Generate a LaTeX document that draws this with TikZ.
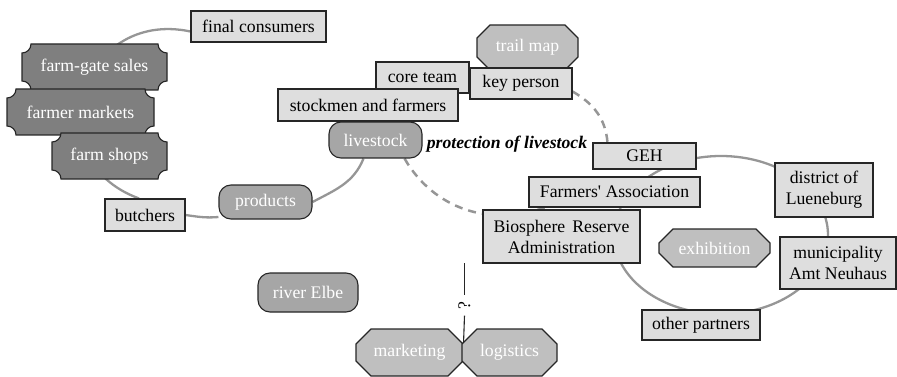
\documentclass[tikz,border=0pt]{standalone}
\usepackage{fontspec}
\setmainfont{Liberation Serif}
\pgfdeclarelayer{bg}
\pgfsetlayers{bg,main}
\definecolor{boxfill}{HTML}{DEDEDE}
\definecolor{plqfill}{HTML}{7F7F7F}
\definecolor{rndfill}{HTML}{A6A6A6}
\definecolor{octfill}{HTML}{BFBFBF}
\definecolor{edgec}{HTML}{262626}
\definecolor{ringc}{HTML}{969696}
\tikzset{
  txt/.style={font=\fontsize{17.7}{21}\selectfont, inner sep=0pt, align=center},
  box/.style={txt, draw=edgec, line width=1.1pt, fill=boxfill, text=black},
  rnd/.style={txt, draw=edgec, line width=1.1pt, fill=rndfill, text=white, rounded corners=12pt},
  shapetext/.style={txt, text=white},
  plqpath/.style={draw=black!85, line width=1.1pt, fill=plqfill},
  octpath/.style={draw=edgec, line width=1.1pt, fill=octfill},
  ring/.style={draw=ringc, line width=2.3pt},
  dashring/.style={draw=ringc, line width=2.5pt, dash pattern=on 8pt off 6pt},
  qline/.style={draw=edgec, line width=1.1pt},
}
% octagon: name, cx, cy, w, h, chamfer, text
\newcommand\octnode[7]{%
  \path[octpath] ({#2-#4/2+#6},{#3-#5/2}) -- ({#2+#4/2-#6},{#3-#5/2}) -- ({#2+#4/2},{#3-#5/2+#6}) -- ({#2+#4/2},{#3+#5/2-#6}) -- ({#2+#4/2-#6},{#3+#5/2}) -- ({#2-#4/2+#6},{#3+#5/2}) -- ({#2-#4/2},{#3+#5/2-#6}) -- ({#2-#4/2},{#3-#5/2+#6}) -- cycle;
  \node[shapetext, minimum width=#4pt, minimum height=#5pt] (#1) at (#2,#3) {#7};}
% plaque: name, cx, cy, w, h, text
\newcommand\plqnode[6]{%
  \path[plqpath] ({#2-#4/2+9},{#3-#5/2}) -- ({#2+#4/2-9},{#3-#5/2}) arc[start angle=180,end angle=270,radius=9pt] -- ({#2+#4/2},{#3+#5/2-9}) arc[start angle=90,end angle=180,radius=9pt] -- ({#2-#4/2+9},{#3+#5/2}) arc[start angle=0,end angle=90,radius=9pt] -- ({#2-#4/2},{#3-#5/2+9}) arc[start angle=270,end angle=360,radius=9pt] -- cycle;
  \node[shapetext, minimum width=#4pt, minimum height=#5pt] (#1) at (#2,#3) {#6};}
\begin{document}
\begin{tikzpicture}[x=1pt,y=-1pt]
\useasboundingbox (0,0) rectangle (897,377);
% left group
\node[box, minimum width=135pt, minimum height=31pt] (fc) at (258.5,26.5) {final consumers};
\plqnode{fgs}{94.5}{67}{145}{46}{farm-gate sales}
\plqnode{fm}{80.5}{112}{147}{46}{farmer markets}
\plqnode{fs}{109.5}{156}{115}{46}{farm shops}
\node[box, minimum width=80pt, minimum height=32pt] (bu) at (145,215) {butchers};
\node[rnd, minimum width=93pt, minimum height=34pt] (pr) at (265.5,202) {products};
\node[rnd, minimum width=93pt, minimum height=36pt] (ls) at (375.5,140) {livestock};
% top middle
\octnode{tm}{527.5}{47.5}{101}{45}{13}{trail map}
\node[box, minimum width=93pt, minimum height=31pt] (ct) at (422.5,77.5) {core team};
\node[box, minimum width=102pt, minimum height=31pt] (kp) at (521,83.5) {key person};
\node[box, minimum width=180pt, minimum height=32pt] (sf) at (368,105) {stockmen and farmers};
\node[txt, font=\fontsize{17.7}{21}\selectfont\bfseries\itshape] (prot) at (507,144) {protection of livestock};
% right group
\node[box, minimum width=103pt, minimum height=26pt] (geh) at (644.5,156) {GEH};
\node[box, minimum width=171pt, minimum height=30pt] (fa) at (614.5,192) {Farmers\textquotesingle{} Association};
\node[box, minimum width=157pt, minimum height=53pt] (bra) at (561.5,236.5) {Biosphere\hspace{0.15em} Reserve\\Administration};
\node[box, minimum width=98pt, minimum height=54pt] (dl) at (824,190) {district of\\Lueneburg};
\node[box, minimum width=116pt, minimum height=52pt] (mu) at (838,263) {municipality\\Amt Neuhaus};
\node[box, minimum width=118pt, minimum height=30pt] (op) at (701,325) {other partners};
\octnode{ex}{714.5}{248}{111}{38}{14}{exhibition}
% bottom
\node[rnd, minimum width=100pt, minimum height=39pt] (re) at (308,292.5) {river Elbe};
\octnode{mk}{409.5}{352.5}{107}{47}{15}{marketing}
\octnode{lg}{509.5}{352.5}{95}{47}{15}{logistics}
\node[txt, rotate=90, inner xsep=6pt, text=black] (qm) at (464.5,305.5) {?};
\coordinate (q1) at (464.5,263);
\coordinate (q2) at (463.5,344);
\begin{pgfonlayer}{bg}
  \coordinate (rc) at (721,235);
  \draw[ring] (rc) ellipse[x radius=107pt, y radius=79pt];
  \draw[ring] ([yshift=-5pt]fc.west) to[out=168, in=160, looseness=1.65] ([xshift=-6pt]bu.north);
  \draw[ring] (bu.east) to[out=-8, in=185] ([yshift=-15pt]pr.west);
  \draw[ring] (pr.east) to[out=28, in=-112] ([xshift=-12pt]ls.south);
  \draw[dashring] ([xshift=-18pt]ls.south east) to[out=-60, in=200] ([xshift=-70pt]fa.south);
  \draw[dashring] ([yshift=-8pt]kp.east) to[out=-30, in=95] ([xshift=-37pt]geh.north);
  \draw[qline] (q1) -- (qm.east);
  \draw[qline] (qm.west) -- (q2);
\end{pgfonlayer}
\end{tikzpicture}
\end{document}
